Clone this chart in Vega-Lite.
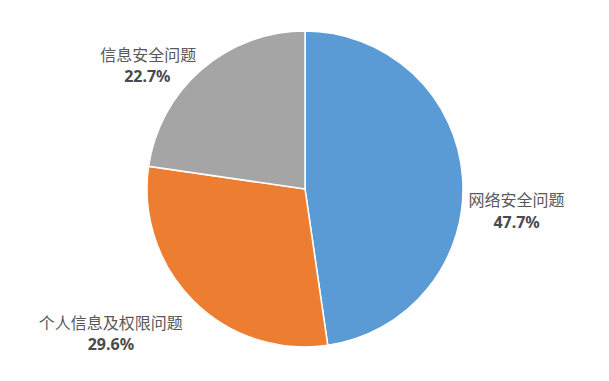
{
  "$schema": "https://vega.github.io/schema/vega-lite/v6.json",
  "width": 609,
  "height": 381,
  "autosize": {"type": "fit", "contains": "padding"},
  "padding": {"left": 1, "right": 0, "top": 0, "bottom": 3},
  "background": "white",
  "config": {"view": {"stroke": null}},
  "data": {
    "values": [
      {"cat": "网络安全问题", "value": 47.7, "pct": "47.7%", "rank": 1},
      {"cat": "个人信息及权限问题", "value": 29.6, "pct": "29.6%", "rank": 2},
      {"cat": "信息安全问题", "value": 22.7, "pct": "22.7%", "rank": 3}
    ]
  },
  "encoding": {
    "theta": {"field": "value", "type": "quantitative", "stack": true},
    "order": {"field": "rank", "type": "quantitative", "sort": "ascending"}
  },
  "layer": [
    {
      "mark": {"type": "arc", "outerRadius": 158, "stroke": "white", "strokeWidth": 1.5},
      "encoding": {
        "color": {
          "field": "cat",
          "type": "nominal",
          "scale": {
            "domain": ["网络安全问题", "个人信息及权限问题", "信息安全问题"],
            "range": ["#5B9BD5", "#ED7D31", "#A5A5A5"]
          },
          "legend": null
        }
      }
    },
    {
      "mark": {"type": "text", "radius": 160, "dx": 52, "dy": 24, "align": "center", "baseline": "middle", "font": "Noto Sans CJK SC", "fontSize": 16, "fill": "#595959"},
      "encoding": {
        "detail": {"field": "cat", "type": "nominal"},
        "text": {"condition": {"test": "datum.cat === '网络安全问题'", "field": "cat"}, "value": ""}
      }
    },
    {
      "mark": {"type": "text", "radius": 160, "dx": 52, "dy": 46, "align": "center", "baseline": "middle", "font": "Noto Sans", "fontSize": 16, "fontWeight": "bold", "fill": "#4a4a4a"},
      "encoding": {
        "detail": {"field": "cat", "type": "nominal"},
        "text": {"condition": {"test": "datum.cat === '网络安全问题'", "field": "pct"}, "value": ""}
      }
    },
    {
      "mark": {"type": "text", "radius": 160, "dx": -81, "dy": 22, "align": "center", "baseline": "middle", "font": "Noto Sans CJK SC", "fontSize": 16, "fill": "#595959"},
      "encoding": {
        "detail": {"field": "cat", "type": "nominal"},
        "text": {"condition": {"test": "datum.cat === '个人信息及权限问题'", "field": "cat"}, "value": ""}
      }
    },
    {
      "mark": {"type": "text", "radius": 160, "dx": -81, "dy": 43, "align": "center", "baseline": "middle", "font": "Noto Sans", "fontSize": 16, "fontWeight": "bold", "fill": "#4a4a4a"},
      "encoding": {
        "detail": {"field": "cat", "type": "nominal"},
        "text": {"condition": {"test": "datum.cat === '个人信息及权限问题'", "field": "pct"}, "value": ""}
      }
    },
    {
      "mark": {"type": "text", "radius": 160, "dx": -52, "dy": -12, "align": "center", "baseline": "middle", "font": "Noto Sans CJK SC", "fontSize": 16, "fill": "#595959"},
      "encoding": {
        "detail": {"field": "cat", "type": "nominal"},
        "text": {"condition": {"test": "datum.cat === '信息安全问题'", "field": "cat"}, "value": ""}
      }
    },
    {
      "mark": {"type": "text", "radius": 160, "dx": -53, "dy": 9, "align": "center", "baseline": "middle", "font": "Noto Sans", "fontSize": 16, "fontWeight": "bold", "fill": "#4a4a4a"},
      "encoding": {
        "detail": {"field": "cat", "type": "nominal"},
        "text": {"condition": {"test": "datum.cat === '信息安全问题'", "field": "pct"}, "value": ""}
      }
    }
  ]
}
